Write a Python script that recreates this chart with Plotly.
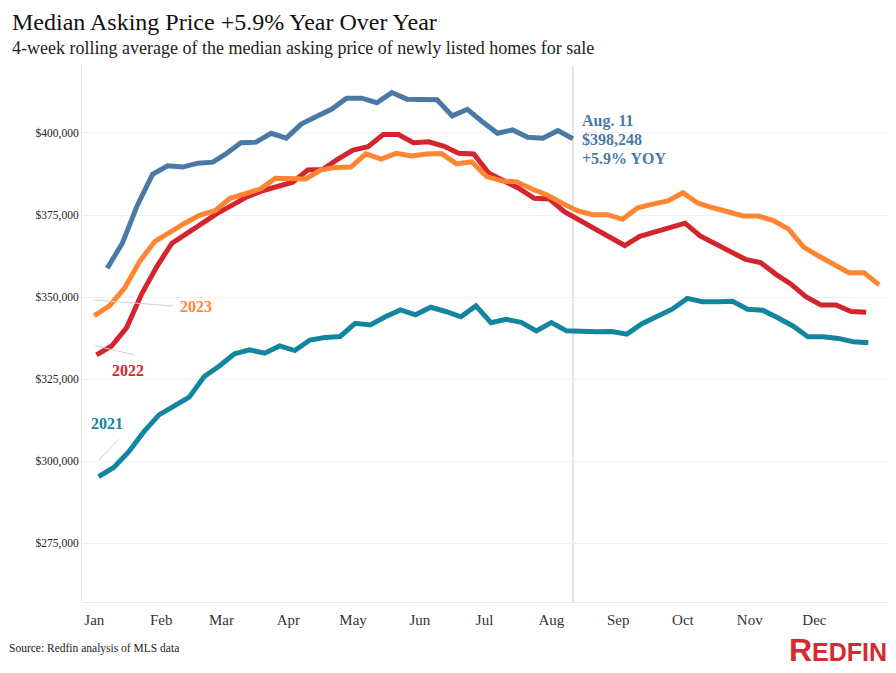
import pandas as pd
import plotly.graph_objects as go

# weekly 4-week rolling median asking price, one list per year
start_2021 = "2021-01-03"
start_2022 = "2022-01-02"
start_2023 = "2023-01-01"
start_2024 = "2024-01-07"

price_2021 = [295300, 298100, 302900, 309000, 314100, 316800, 319500, 325800, 329000, 332700,
              333900, 332900, 335100, 333700, 336900, 337700, 338000, 342000, 341500, 344000,
              346100, 344600, 346900, 345600, 344000, 347300, 342200, 343200, 342300, 339700,
              342200, 339700, 339500, 339400, 339500, 338700, 341900, 344000, 346300, 349600,
              348600, 348600, 348700, 346300, 346000, 343700, 341200, 337900, 337900, 337400,
              336400, 336100]
price_2022 = [332400, 335100, 340700, 351000, 359300, 366400, 369400, 372500, 375500, 378000,
              380600, 382400, 383600, 385000, 388700, 388900, 392000, 394800, 395800, 399500,
              399500, 397000, 397300, 396000, 393800, 393600, 387700, 385600, 383100, 380100,
              379900, 376000, 373500, 371000, 368500, 365700, 368500, 369900, 371300, 372500,
              368600, 366200, 364100, 361500, 360500, 357000, 354000, 350100, 347600, 347600,
              345600, 345400]
price_2023 = [344300, 347300, 352700, 360800, 366900, 369900, 372500, 375000, 376300, 380100,
              381600, 382900, 386200, 386000, 386000, 388700, 389500, 389600, 393600, 392000,
              393800, 393000, 393600, 393700, 390600, 391200, 386700, 385400, 385100, 382900,
              381100, 378600, 376300, 375100, 375100, 373700, 377200, 378300, 379300, 381800,
              378600, 377200, 376000, 374700, 374700, 373300, 370700, 365200, 362500, 360000,
              357400, 357400, 353700]
price_2024 = [358800, 366400, 378000, 387400, 390000, 389600, 390800, 391100, 393600, 397000,
              397200, 399900, 398400, 402700, 405000, 407200, 410600, 410600, 409200, 412300,
              410300, 410300, 410100, 405200, 407200, 403400, 399900, 400900, 398700, 398400,
              400700, 398248]

months = pd.date_range("2023-01-01", periods=12, freq="MS")
callout = ["Aug. 11", "$398,248", "+5.9% YOY"]

series = [
    ("2021", start_2021, price_2021, "#12869F"),
    ("2022", start_2022, price_2022, "#D4242D"),
    ("2023", start_2023, price_2023, "#FF8533"),
    ("2024", start_2024, price_2024, "#4A79A6"),
]

serif = "Liberation Serif"
fig = go.Figure()

for name, start, vals, col in series:
    d = pd.date_range(start, periods=len(vals), freq="7D")
    # put every year on the same calendar axis
    d = [x.replace(year=2023) for x in d]
    fig.add_trace(go.Scatter(x=d, y=vals, mode="lines", name=name,
                             line=dict(color=col, width=5), hoverinfo="skip"))

# vertical marker at latest week
fig.add_shape(type="line", xref="x", yref="paper", x0="2023-08-11", x1="2023-08-11",
              y0=0, y1=1, line=dict(color="#dcdcdc", width=1.5), layer="below")

# leader lines for the year labels
leaders = [
    (0.0152, 0.5624, 0.1131, 0.5512),
    (0.0161, 0.4773, 0.0657, 0.4600),
    (0.0211, 0.2644, 0.0455, 0.3030),
]
for x0, y0, x1, y1 in leaders:
    fig.add_shape(type="line", xref="paper", yref="paper", x0=x0, y0=y0, x1=x1, y1=y1,
                  line=dict(color="#d0d0d0", width=1))

labels = [
    ("2023", 0.1413, 0.5512, "#FF8533"),
    ("2022", 0.0576, 0.4307, "#D4242D"),
    ("2021", 0.0306, 0.3315, "#12869F"),
]
for t, x, y, col in labels:
    fig.add_annotation(text="<b>%s</b>" % t, xref="paper", yref="paper", x=x, y=y,
                       xanchor="center", yanchor="middle",
                       showarrow=False, font=dict(family=serif, size=16, color=col))

for i, t in enumerate(callout):
    fig.add_annotation(text="<b>%s</b>" % t, xref="paper", yref="paper",
                       x=0.617, y=0.895 - i * 0.0345, xanchor="left", yanchor="middle",
                       showarrow=False, font=dict(family=serif, size=16, color="#4A79A6"))

fig.add_annotation(text="Median Asking Price +5.9% Year Over Year", xref="paper", yref="paper",
                   x=-0.0892, y=1.080, xanchor="left", yanchor="middle", showarrow=False,
                   font=dict(family=serif, size=24, color="#111"))
fig.add_annotation(text="4-week rolling average of the median asking price of newly listed homes for sale",
                   xref="paper", yref="paper", x=-0.0892, y=1.0317, xanchor="left", yanchor="middle",
                   showarrow=False, font=dict(family=serif, size=18, color="#222"))
fig.add_annotation(text="Source: Redfin analysis of MLS data", xref="paper", yref="paper",
                   x=-0.0929, y=-0.0857, xanchor="left", yanchor="middle", showarrow=False,
                   font=dict(family=serif, size=11.5, color="#222"))
fig.add_annotation(text="<b><span style='font-size:32px'>R</span>EDFIN</b>", xref="paper", yref="paper",
                   x=1.0, y=-0.0894, xanchor="right", yanchor="middle", showarrow=False,
                   font=dict(family="Liberation Sans", size=25, color="#D42A32"))

fig.update_layout(
    width=896, height=673,
    margin=dict(l=74, r=15, t=57, b=79),
    paper_bgcolor="white", plot_bgcolor="white",
    showlegend=False, hovermode=False,
    xaxis=dict(type="date", range=["2022-12-26 07:00", "2024-01-04 14:00"],
               tickvals=months, tickformat="%b", showgrid=False,
               showline=True, linecolor="#e8e8e8", ticks="", ticklabelstandoff=4,
               tickfont=dict(family=serif, size=15, color="#333")),
    yaxis=dict(range=[257100, 420700], tickvals=[275000, 300000, 325000, 350000, 375000, 400000],
               tickformat="$,.0f", showgrid=True, gridcolor="#f0f0f0", zeroline=False,
               showline=True, linecolor="#e8e8e8", ticks="",
               tickfont=dict(family=serif, size=11.5, color="#222")),
)

fig.write_html("out.html")
